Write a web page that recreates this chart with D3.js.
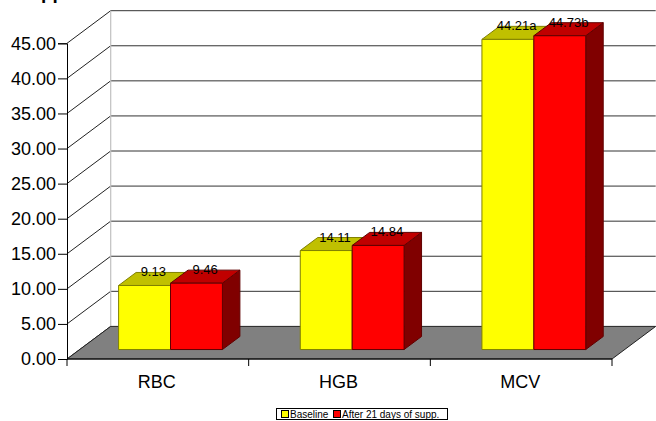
<!DOCTYPE html>
<html>
<head>
<meta charset="utf-8">
<script src="https://cdn.jsdelivr.net/npm/d3@7"></script>
<style>
  html, body { margin: 0; padding: 0; background: #fff; }
  svg { display: block; font-family: "Liberation Sans", Arial, sans-serif; }
</style>
</head>
<body>
<svg id="chart" width="656" height="421"></svg>
<script>
// Haematology values, baseline vs after 21 days of supplementation
const categories = ["RBC", "HGB", "MCV"];
const seriesNames = ["Baseline", "After 21 days of supp."];
const baselineValues = [9.13, 14.11, 44.21];
const afterValues = [9.46, 14.84, 44.73];
const baselineMarks = ["", "", "a"];
const afterMarks = ["", "", "b"];
const yTicks = [0, 5, 10, 15, 20, 25, 30, 35, 40, 45];

const series = [
  { name: seriesNames[0], values: baselineValues, marks: baselineMarks,
    front: "#FFFF00", top: "#C0C000", side: "#808000", edge: "#808000" },
  { name: seriesNames[1], values: afterValues, marks: afterMarks,
    front: "#FF0000", top: "#C00000", side: "#800000", edge: "#600000" }
];

const svg = d3.select("#chart");

// plot frame: front plane and depth offset of the back wall
const left = 67, right = 612, bottom = 359, topY = 43.3;
const DX = 43.7, DY = 32.6;
const F0 = 0.29, F1 = 0.69;   // bar depth range (fraction of full depth)

const y = d3.scaleLinear().domain([0, 45]).range([bottom, topY]);
const x = d3.scaleBand().domain(categories).range([left, right]).padding(0);
const xs = d3.scaleBand().domain(seriesNames).range([0, x.bandwidth()])
  .paddingInner(0).paddingOuter(0.75);

const grid = svg.append("g");

// side wall diagonals and back wall grid lines
yTicks.forEach(t => {
  const yy = y(t);
  if (t > 0) {
    grid.append("line")
      .attr("x1", left + DX).attr("x2", right + DX)
      .attr("y1", yy - DY).attr("y2", yy - DY)
      .attr("stroke", "#333").attr("stroke-width", 1);
  }
  grid.append("line")
    .attr("x1", left).attr("y1", yy)
    .attr("x2", left + DX).attr("y2", yy - DY)
    .attr("stroke", "#222").attr("stroke-width", 1);
});

// back wall left edge
grid.append("line")
  .attr("x1", left + DX).attr("x2", left + DX)
  .attr("y1", y(45) - DY).attr("y2", y(0) - DY)
  .attr("stroke", "#c0c0c0").attr("stroke-width", 1.2);

// floor
grid.append("polygon")
  .attr("points", [
    [left, y(0)], [right, y(0)], [right + DX, y(0) - DY], [left + DX, y(0) - DY]
  ].map(p => p.join(",")).join(" "))
  .attr("fill", "#808080").attr("stroke", "#222").attr("stroke-width", 1);

// y axis
const yAxis = svg.append("g")
  .attr("transform", `translate(${left},0)`)
  .call(d3.axisLeft(y).tickValues(yTicks).tickFormat(d3.format(".2f"))
    .tickSize(9).tickPadding(2));
yAxis.select(".domain").attr("stroke", "#000");
yAxis.selectAll(".tick line").attr("stroke", "#000");
yAxis.selectAll(".tick text")
  .attr("font-size", 18).attr("fill", "#000")
  .attr("font-family", "\"Liberation Sans\", Arial, sans-serif");

// x axis line and category boundary ticks
svg.append("line")
  .attr("x1", left).attr("x2", right).attr("y1", y(0)).attr("y2", y(0))
  .attr("stroke", "#000");
const bounds = categories.map(c => x(c)).concat([x(categories[categories.length - 1]) + x.bandwidth()]);
svg.selectAll(".xtick").data(bounds).join("line")
  .attr("class", "xtick")
  .attr("x1", d => d).attr("x2", d => d)
  .attr("y1", y(0)).attr("y2", y(0) + 7)
  .attr("stroke", "#000");
svg.selectAll(".xlab").data(categories).join("text")
  .attr("class", "xlab")
  .attr("x", d => x(d) + x.bandwidth() / 2 - 1)
  .attr("y", 388)
  .attr("text-anchor", "middle")
  .attr("font-size", 18)
  .text(d => d);

// bars, drawn left to right so later faces overlap earlier ones
const bars = svg.append("g");
const labels = svg.append("g");
categories.forEach((cat, ci) => {
  series.forEach(s => {
    const v = s.values[ci];
    const x0 = x(cat) + xs(s.name);
    const x1 = x0 + xs.bandwidth();
    const yv = y(v), y0 = y(0);
    const P = (px, py, f) => [px + f * DX, py - f * DY];
    const poly = pts => pts.map(p => p.join(",")).join(" ");
    const g = bars.append("g").attr("stroke", s.edge).attr("stroke-width", 1)
      .attr("stroke-linejoin", "round");
    g.append("polygon")
      .attr("points", poly([P(x1, yv, F0), P(x1, yv, F1), P(x1, y0, F1), P(x1, y0, F0)]))
      .attr("fill", s.side);
    g.append("polygon")
      .attr("points", poly([P(x0, yv, F0), P(x1, yv, F0), P(x1, yv, F1), P(x0, yv, F1)]))
      .attr("fill", s.top);
    g.append("polygon")
      .attr("points", poly([P(x0, yv, F0), P(x1, yv, F0), P(x1, y0, F0), P(x0, y0, F0)]))
      .attr("fill", s.front);

    const fm = (F0 + F1) / 2;
    labels.append("text")
      .attr("x", (x0 + x1) / 2 + fm * DX)
      .attr("y", yv - fm * DY - 2.5)
      .attr("text-anchor", "middle")
      .attr("font-size", 13)
      .attr("fill", "#000")
      .text(d3.format(".2f")(v) + s.marks[ci]);
  });
});

// chart title (runs above the visible area)
svg.append("text")
  .attr("x", 41).attr("y", -1)
  .attr("font-size", 19).attr("font-weight", "bold")
  .text("pp");

// legend
const lg = svg.append("g");
lg.append("rect").attr("x", 276.5).attr("y", 408.5).attr("width", 171).attr("height", 11)
  .attr("fill", "#fff").attr("stroke", "#000");
const legendItems = [
  { s: series[0], bx: 281, tx: 290 },
  { s: series[1], bx: 333, tx: 342 }
];
legendItems.forEach(it => {
  lg.append("rect").attr("x", it.bx + 0.5).attr("y", 410.5).attr("width", 7).attr("height", 7)
    .attr("fill", it.s.front).attr("stroke", "#000");
  lg.append("text").attr("x", it.tx).attr("y", 417.5)
    .attr("font-size", 10).text(it.s.name);
});
</script>
</body>
</html>
